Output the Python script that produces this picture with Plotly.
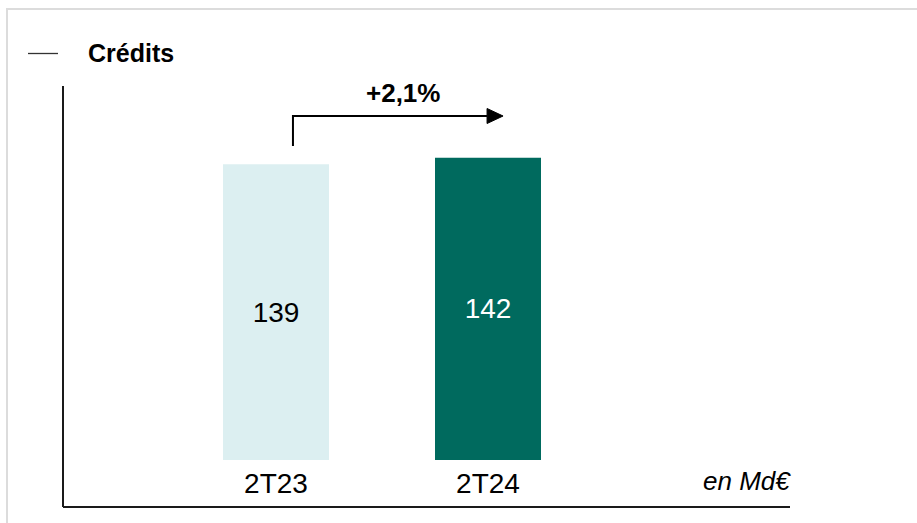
import plotly.graph_objects as go

# ---- data ----
categories = ["2T23", "2T24"]
values = [139, 142]
value_labels = ["139", "142"]
growth_label = "+2,1%"
title_text = "Crédits"
unit_text = "en Md€"

# ---- styles ----
bar_colors = ["#DCEFF1", "#006A5E"]
label_colors = ["#000000", "#FFFFFF"]
FONT = "Liberation Sans, Arial, sans-serif"

W, H = 917, 523
L, R, T, B = 63, 127, 86, 63   # plot area: x 63..790, y 86..460
px_per_unit = 2.128
plot_h = H - T - B
slot_px = 212.0
plot_w = W - L - R
x0 = -(276 - L) / slot_px
xr = [x0, x0 + plot_w / slot_px]
yr = [0, plot_h / px_per_unit]

fig = go.Figure()
fig.add_trace(go.Bar(
    x=categories, y=values, width=0.5,
    marker=dict(color=bar_colors, line=dict(width=0)),
    text=value_labels, textposition="inside", insidetextanchor="middle",
    textfont=dict(family=FONT, size=28, color=label_colors),
    hoverinfo="skip",
))

def py(pix):  # pixel y -> paper y
    return (H - B - pix) / plot_h

def px(pix):  # pixel x -> paper x
    return (pix - L) / plot_w

shapes = []
# outer light border
shapes.append(dict(type="rect", xref="paper", yref="paper",
                   x0=px(7), x1=px(W + 10), y0=py(H + 10), y1=py(9),
                   line=dict(color="#DCDCDC", width=2), fillcolor="rgba(0,0,0,0)"))
# axis lines
shapes.append(dict(type="line", xref="paper", yref="paper",
                   x0=0, x1=0, y0=py(507), y1=1,
                   line=dict(color="#1A1A1A", width=2)))
shapes.append(dict(type="line", xref="paper", yref="paper",
                   x0=0, x1=1, y0=py(507), y1=py(507),
                   line=dict(color="#1A1A1A", width=2)))
# title dash
shapes.append(dict(type="line", xref="paper", yref="paper",
                   x0=px(28), x1=px(58), y0=py(53.5), y1=py(53.5),
                   line=dict(color="#333333", width=1.3)))
# growth arrow (L-shaped) from first bar toward second
ax0 = 0.08
ax1 = 1.0 - 16 / slot_px + 0.071
ytop = py(116)
ybot = py(146)
shapes.append(dict(type="path", xref="x", yref="paper",
                   path=f"M {ax0},{ybot} L {ax0},{ytop} L {ax1},{ytop}",
                   line=dict(color="#000000", width=2)))
# arrow head
shapes.append(dict(type="path", xref="x", yref="paper",
                   xsizemode="pixel", ysizemode="pixel",
                   xanchor=1.071, yanchor=ytop,
                   path="M 0,0 L -16,7.5 L -16,-7.5 Z",
                   fillcolor="#000000", line=dict(color="#000000", width=1)))

annotations = [
    dict(text=f"<b>{title_text}</b>", xref="paper", yref="paper",
         x=px(86), y=py(53), xanchor="left", yanchor="middle", showarrow=False,
         font=dict(family=FONT, size=25, color="#000000")),
    dict(text=f"<b>{growth_label}</b>", xref="paper", yref="paper",
         x=px(403), y=py(93), xanchor="center", yanchor="middle", showarrow=False,
         font=dict(family=FONT, size=26, color="#000000")),
    dict(text=f"<i>{unit_text}</i>", xref="paper", yref="paper",
         x=px(793), y=py(481), xanchor="right", yanchor="middle", showarrow=False,
         font=dict(family=FONT, size=26, color="#000000")),
]

fig.update_layout(
    width=W, height=H,
    margin=dict(l=L, r=R, t=T, b=B),
    paper_bgcolor="white", plot_bgcolor="white",
    showlegend=False,
    shapes=shapes, annotations=annotations,
    xaxis=dict(type="category", range=xr, showgrid=False, zeroline=False,
               showline=False, ticks="", ticklabelstandoff=4,
               tickfont=dict(family=FONT, size=28, color="#000000"),
               fixedrange=True),
    yaxis=dict(range=yr, showgrid=False, zeroline=False, showline=False,
               showticklabels=False, ticks="", fixedrange=True),
    uniformtext=dict(mode=False),
)

fig.write_html("out.html", config={"displayModeBar": False})
